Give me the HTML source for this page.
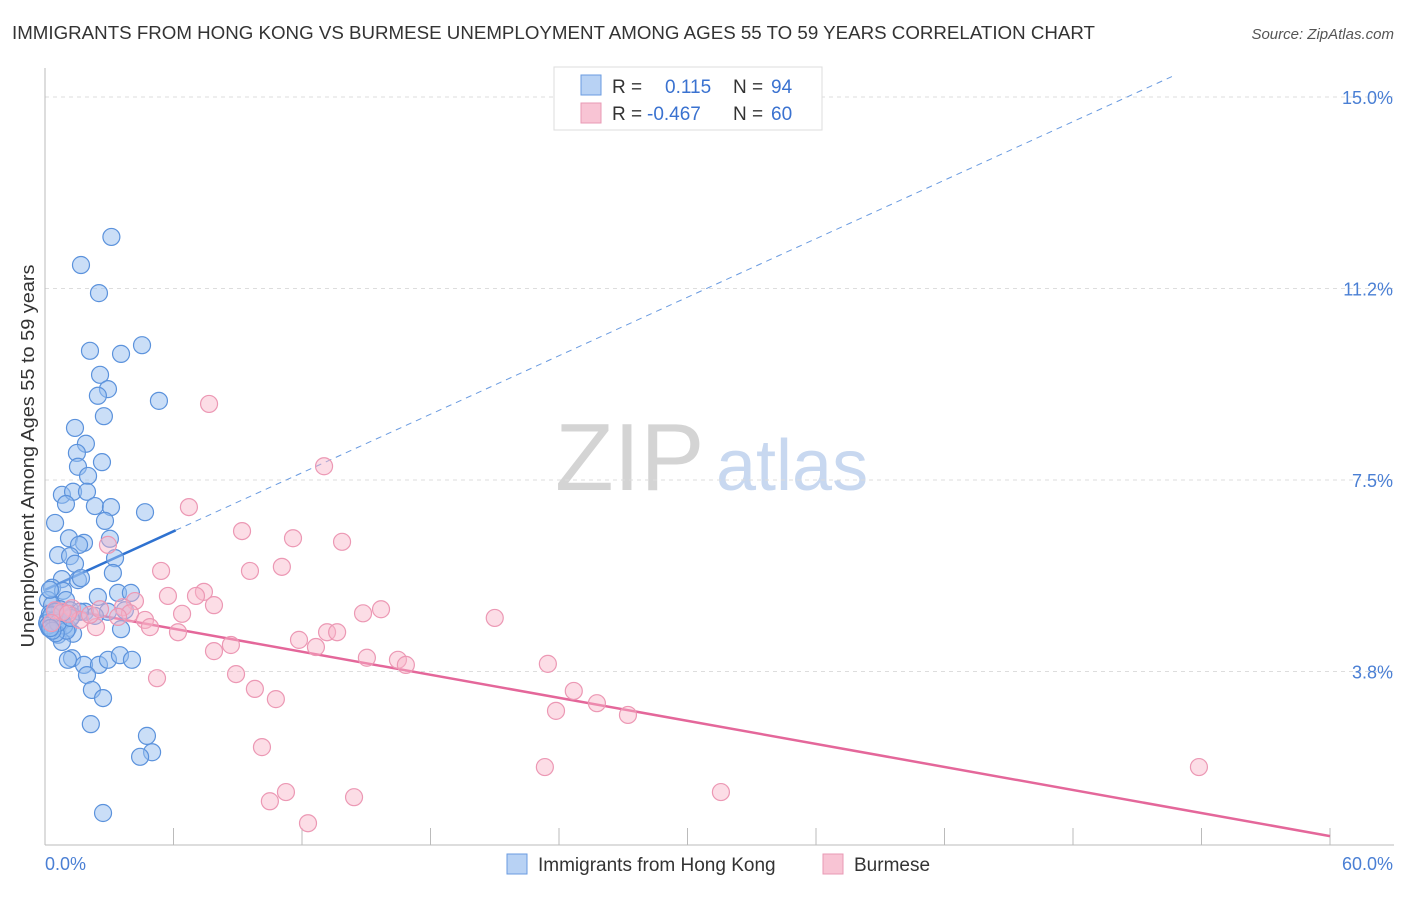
<!DOCTYPE html>
<html><head><meta charset="utf-8"><style>
body{margin:0;background:#fff;font-family:"Liberation Sans",sans-serif;}
svg text{font-family:"Liberation Sans",sans-serif;}
</style></head><body>
<svg id="chart" width="1406" height="892" xmlns="http://www.w3.org/2000/svg">
<text x="12" y="39" font-size="18.6" fill="#333" textLength="1083" lengthAdjust="spacingAndGlyphs">IMMIGRANTS FROM HONG KONG VS BURMESE UNEMPLOYMENT AMONG AGES 55 TO 59 YEARS CORRELATION CHART</text>
<text x="1394" y="39" font-size="15" fill="#555" text-anchor="end" font-style="italic">Source: ZipAtlas.com</text>
<text transform="translate(34,456) rotate(-90)" font-size="18" fill="#333" text-anchor="middle" textLength="383" lengthAdjust="spacingAndGlyphs">Unemployment Among Ages 55 to 59 years</text>
<g>
<text x="555" y="490" font-size="96" fill="#d4d4d4" font-family="Liberation Serif,serif">ZIP</text>
<text x="716" y="490" font-size="72" fill="#c8d8f0">atlas</text>
</g>
<g id="grid"></g><g id="axes"></g><g id="lines"></g><g id="pts"></g>
<g>
<rect x="554" y="67" width="268" height="63" fill="#fff" stroke="#ddd"/>
<rect x="581" y="75" width="20" height="20" fill="#b8d2f4" stroke="#6a9be0"/>
<rect x="581" y="103" width="20" height="20" fill="#f8c4d4" stroke="#e89ab4"/>
<text x="612" y="93" font-size="19" fill="#333">R = </text><text x="665" y="93" font-size="19" fill="#3a72d0">0.115</text>
<text x="733" y="93" font-size="19" fill="#333">N = </text><text x="771" y="93" font-size="19" fill="#3a72d0">94</text>
<text x="612" y="120" font-size="19" fill="#333">R = </text><text x="647" y="120" font-size="19" fill="#3a72d0">-0.467</text>
<text x="733" y="120" font-size="19" fill="#333">N = </text><text x="771" y="120" font-size="19" fill="#3a72d0">60</text>
</g>
<g>
<rect x="507" y="854" width="20" height="20" fill="#b8d2f4" stroke="#6a9be0"/>
<text x="538" y="871" font-size="19" fill="#333">Immigrants from Hong Kong</text>
<rect x="823" y="854" width="20" height="20" fill="#f8c4d4" stroke="#e89ab4"/>
<text x="854" y="871" font-size="19" fill="#333">Burmese</text>
</g>
</svg>
<script>
const yTicks=[15.0,11.25,7.5,3.75];
const yTickLabels=["15.0%","11.2%","7.5%","3.8%"];
const xTickCount=10;
const xMax=60;
const blueX=[3.1,1.68,2.52,2.10,3.55,4.53,2.57,2.94,2.47,5.32,2.75,1.40,1.91,1.49,2.66,1.54,2.01,0.79,1.31,1.96,0.98,2.33,3.08,4.67,0.47,2.80,1.12,1.82,1.59,3.03,0.61,1.17,3.27,1.40,3.17,0.79,1.54,1.68,0.33,0.84,0.14,3.41,4.01,2.47,0.98,0.33,0.70,1.17,1.87,0.23,0.61,0.14,1.26,2.94,3.73,0.70,2.33,0.47,1.07,0.61,1.31,3.55,0.79,1.26,1.07,1.82,2.52,2.94,3.50,4.06,1.96,2.19,2.71,2.14,4.76,5.00,4.44,2.71,0.23,1.63,0.47,0.1,0.2,0.4,0.9,1.0,0.3,0.5,0.15,0.6,1.2,0.35,0.8,0.25];
const blueY=[12.26,11.71,11.16,10.03,9.97,10.14,9.56,9.28,9.15,9.05,8.75,8.52,8.21,8.03,7.85,7.76,7.58,7.21,7.27,7.27,7.03,6.99,6.97,6.87,6.66,6.70,6.36,6.27,6.23,6.35,6.03,6.01,5.97,5.86,5.68,5.56,5.54,5.58,5.39,5.33,5.15,5.29,5.29,5.21,5.15,5.05,4.97,4.95,4.92,4.88,4.80,4.76,4.84,4.92,4.95,4.72,4.84,4.68,4.60,4.47,4.49,4.58,4.33,4.01,3.98,3.88,3.88,3.98,4.07,3.98,3.68,3.39,3.23,2.72,2.49,2.17,2.08,0.98,5.35,4.92,4.92,4.7,4.6,4.75,4.65,4.55,4.85,4.5,4.65,4.7,4.8,4.55,4.9,4.6];
const pinkX=[7.66,13.03,6.72,9.2,11.58,13.87,2.94,5.42,9.57,11.06,5.74,7.42,7.05,7.89,15.69,14.85,21.0,6.4,4.2,3.64,3.97,4.67,4.9,6.21,2.38,1.26,0.79,1.63,11.86,13.17,13.64,12.65,8.68,7.89,15.03,16.48,16.85,23.48,8.92,5.23,9.8,10.78,24.69,25.77,23.86,27.22,10.13,23.34,53.88,11.25,10.50,14.43,31.56,12.28,0.47,1.07,2.1,3.41,2.57,0.3];
const pinkY=[8.99,7.77,6.97,6.5,6.36,6.29,6.23,5.72,5.72,5.80,5.23,5.31,5.23,5.05,4.97,4.89,4.80,4.88,5.13,5.01,4.89,4.76,4.62,4.52,4.62,4.99,4.92,4.76,4.37,4.52,4.52,4.23,4.27,4.15,4.02,3.98,3.88,3.90,3.70,3.62,3.41,3.21,3.37,3.13,2.98,2.90,2.27,1.88,1.88,1.39,1.21,1.29,1.39,0.78,4.95,4.88,4.86,4.82,4.97,4.7];
const blueFit=[5.35,0.191];
const pinkFit=[5.04,-0.0752];
const NS='http://www.w3.org/2000/svg';
const X0=45,X1=1330,YTOP=97,PXPER=51.07;
const sx=v=>X0+v*(X1-X0)/xMax;
const sy=v=>YTOP+(15-v)*PXPER;
function mk(tag,attrs,parent){const e=document.createElementNS(NS,tag);for(const k in attrs)e.setAttribute(k,attrs[k]);parent.appendChild(e);return e;}
const grid=document.getElementById('grid'),axes=document.getElementById('axes'),lines=document.getElementById('lines'),pts=document.getElementById('pts');
yTicks.forEach((t,i)=>{
 const l=mk('line',{x1:45,x2:1394,y1:sy(t),y2:sy(t),stroke:'#ddd','stroke-dasharray':'4,4'},grid);
 
 
 const tx=mk('text',{x:1393,y:sy(t)+7,'font-size':18,fill:'#4a7fd4','text-anchor':'end'},axes);
 tx.textContent=yTickLabels[i];
 
 
});
const ya=mk('line',{x1:45,x2:45,y1:68,y2:845,stroke:'#bbb'},axes);


const xa=mk('line',{x1:45,x2:1394,y1:845,y2:845,stroke:'#bbb'},axes);


for(let i=1;i<=xTickCount;i++){
 const t=mk('line',{x1:sx(i*xMax/xTickCount),x2:sx(i*xMax/xTickCount),y1:828,y2:845,stroke:'#bbb'},axes);
 
 
}
const xl0=mk('text',{x:45,y:870,'font-size':18,fill:'#4a7fd4'},axes);xl0.textContent='0.0%';


const xl1=mk('text',{x:1393,y:870,'font-size':18,fill:'#4a7fd4','text-anchor':'end'},axes);xl1.textContent='60.0%';


blueX.forEach((v,i)=>{
 const c=mk('circle',{cx:sx(v),cy:sy(blueY[i]),r:8.5,fill:'rgba(150,190,240,0.5)',stroke:'#5b92dc','stroke-width':1.2},pts);
 
 
});
pinkX.forEach((v,i)=>{
 const c=mk('circle',{cx:sx(v),cy:sy(pinkY[i]),r:8.5,fill:'rgba(248,180,200,0.45)',stroke:'#ec98b4','stroke-width':1.2},pts);
 
 
});
const bEnd=6.1,bFar=(15.4-blueFit[0])/blueFit[1];
const bl=mk('line',{x1:sx(0),y1:sy(blueFit[0]),x2:sx(bEnd),y2:sy(blueFit[0]+blueFit[1]*bEnd),stroke:'#2f72d0','stroke-width':2.5},lines);


const bd=mk('line',{x1:sx(bEnd),y1:sy(blueFit[0]+blueFit[1]*bEnd),x2:sx(bFar),y2:sy(15.4),stroke:'#6a9be0','stroke-width':1,'stroke-dasharray':'6,5'},lines);


const pl=mk('line',{x1:sx(0),y1:sy(pinkFit[0]),x2:sx(xMax),y2:sy(pinkFit[0]+pinkFit[1]*xMax),stroke:'#e4679a','stroke-width':2.5},lines);


</script>
</body></html>
